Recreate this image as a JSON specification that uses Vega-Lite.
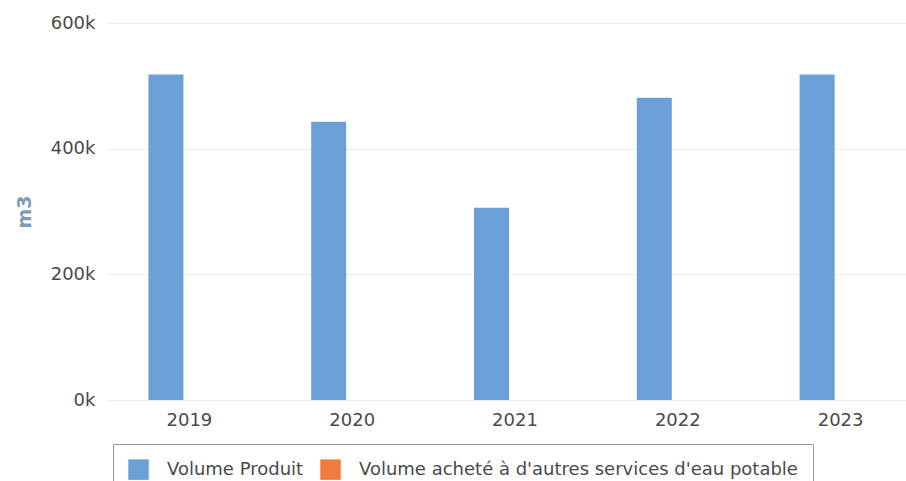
{
  "$schema": "https://vega.github.io/schema/vega-lite/v6.json",
  "autosize": "none",
  "width": 798,
  "height": 377,
  "padding": {"left": 108, "top": 23, "right": 0, "bottom": 81},
  "background": "white",
  "config": {
    "view": {"stroke": null},
    "font": "DejaVu Sans"
  },
  "data": {
    "values": [
      {"annee": "2019", "serie": "Volume Produit", "volume": 518000},
      {"annee": "2020", "serie": "Volume Produit", "volume": 443000},
      {"annee": "2021", "serie": "Volume Produit", "volume": 306000},
      {"annee": "2022", "serie": "Volume Produit", "volume": 481000},
      {"annee": "2023", "serie": "Volume Produit", "volume": 518000},
      {"annee": "2019", "serie": "Volume acheté à d'autres services d'eau potable", "volume": 0},
      {"annee": "2020", "serie": "Volume acheté à d'autres services d'eau potable", "volume": 0},
      {"annee": "2021", "serie": "Volume acheté à d'autres services d'eau potable", "volume": 0},
      {"annee": "2022", "serie": "Volume acheté à d'autres services d'eau potable", "volume": 0},
      {"annee": "2023", "serie": "Volume acheté à d'autres services d'eau potable", "volume": 0}
    ]
  },
  "mark": {"type": "bar"},
  "encoding": {
    "x": {
      "field": "annee",
      "type": "nominal",
      "scale": {"range": [0, 814], "paddingInner": 0, "paddingOuter": 0},
      "axis": {
        "title": null,
        "labelAngle": 0,
        "domain": false,
        "ticks": false,
        "labelPadding": 11,
        "labelFontSize": 18,
        "labelColor": "#4a4a4a",
        "grid": false
      }
    },
    "xOffset": {
      "field": "serie",
      "type": "nominal",
      "sort": ["Volume Produit", "Volume acheté à d'autres services d'eau potable"],
      "scale": {"paddingInner": 0.2553, "paddingOuter": 0.86}
    },
    "y": {
      "field": "volume",
      "type": "quantitative",
      "scale": {"domain": [0, 600000], "nice": false},
      "axis": {
        "title": "m3",
        "titleFontSize": 19,
        "titleFontWeight": "bold",
        "titleColor": "#7f9bbb",
        "titlePadding": 16,
        "values": [0, 200000, 400000, 600000],
        "labelExpr": "(datum.value / 1000) + 'k'",
        "labelFontSize": 18,
        "labelColor": "#4a4a4a",
        "labelPadding": 13,
        "domain": false,
        "ticks": false,
        "grid": true,
        "gridColor": "#ececec",
        "gridWidth": 1
      }
    },
    "color": {
      "field": "serie",
      "type": "nominal",
      "sort": ["Volume Produit", "Volume acheté à d'autres services d'eau potable"],
      "scale": {
        "domain": ["Volume Produit", "Volume acheté à d'autres services d'eau potable"],
        "range": ["#6a9fd8", "#f07b3f"]
      },
      "legend": {
        "title": null,
        "orient": "none",
        "legendX": 5,
        "legendY": 421,
        "direction": "horizontal",
        "symbolType": "square",
        "symbolSize": 420,
        "symbolStrokeWidth": 0,
        "labelFontSize": 18,
        "labelColor": "#4a4a4a",
        "labelLimit": 700,
        "labelOffset": 18,
        "columnPadding": 16,
        "strokeColor": "#999999",
        "padding": 15
      }
    }
  }
}
